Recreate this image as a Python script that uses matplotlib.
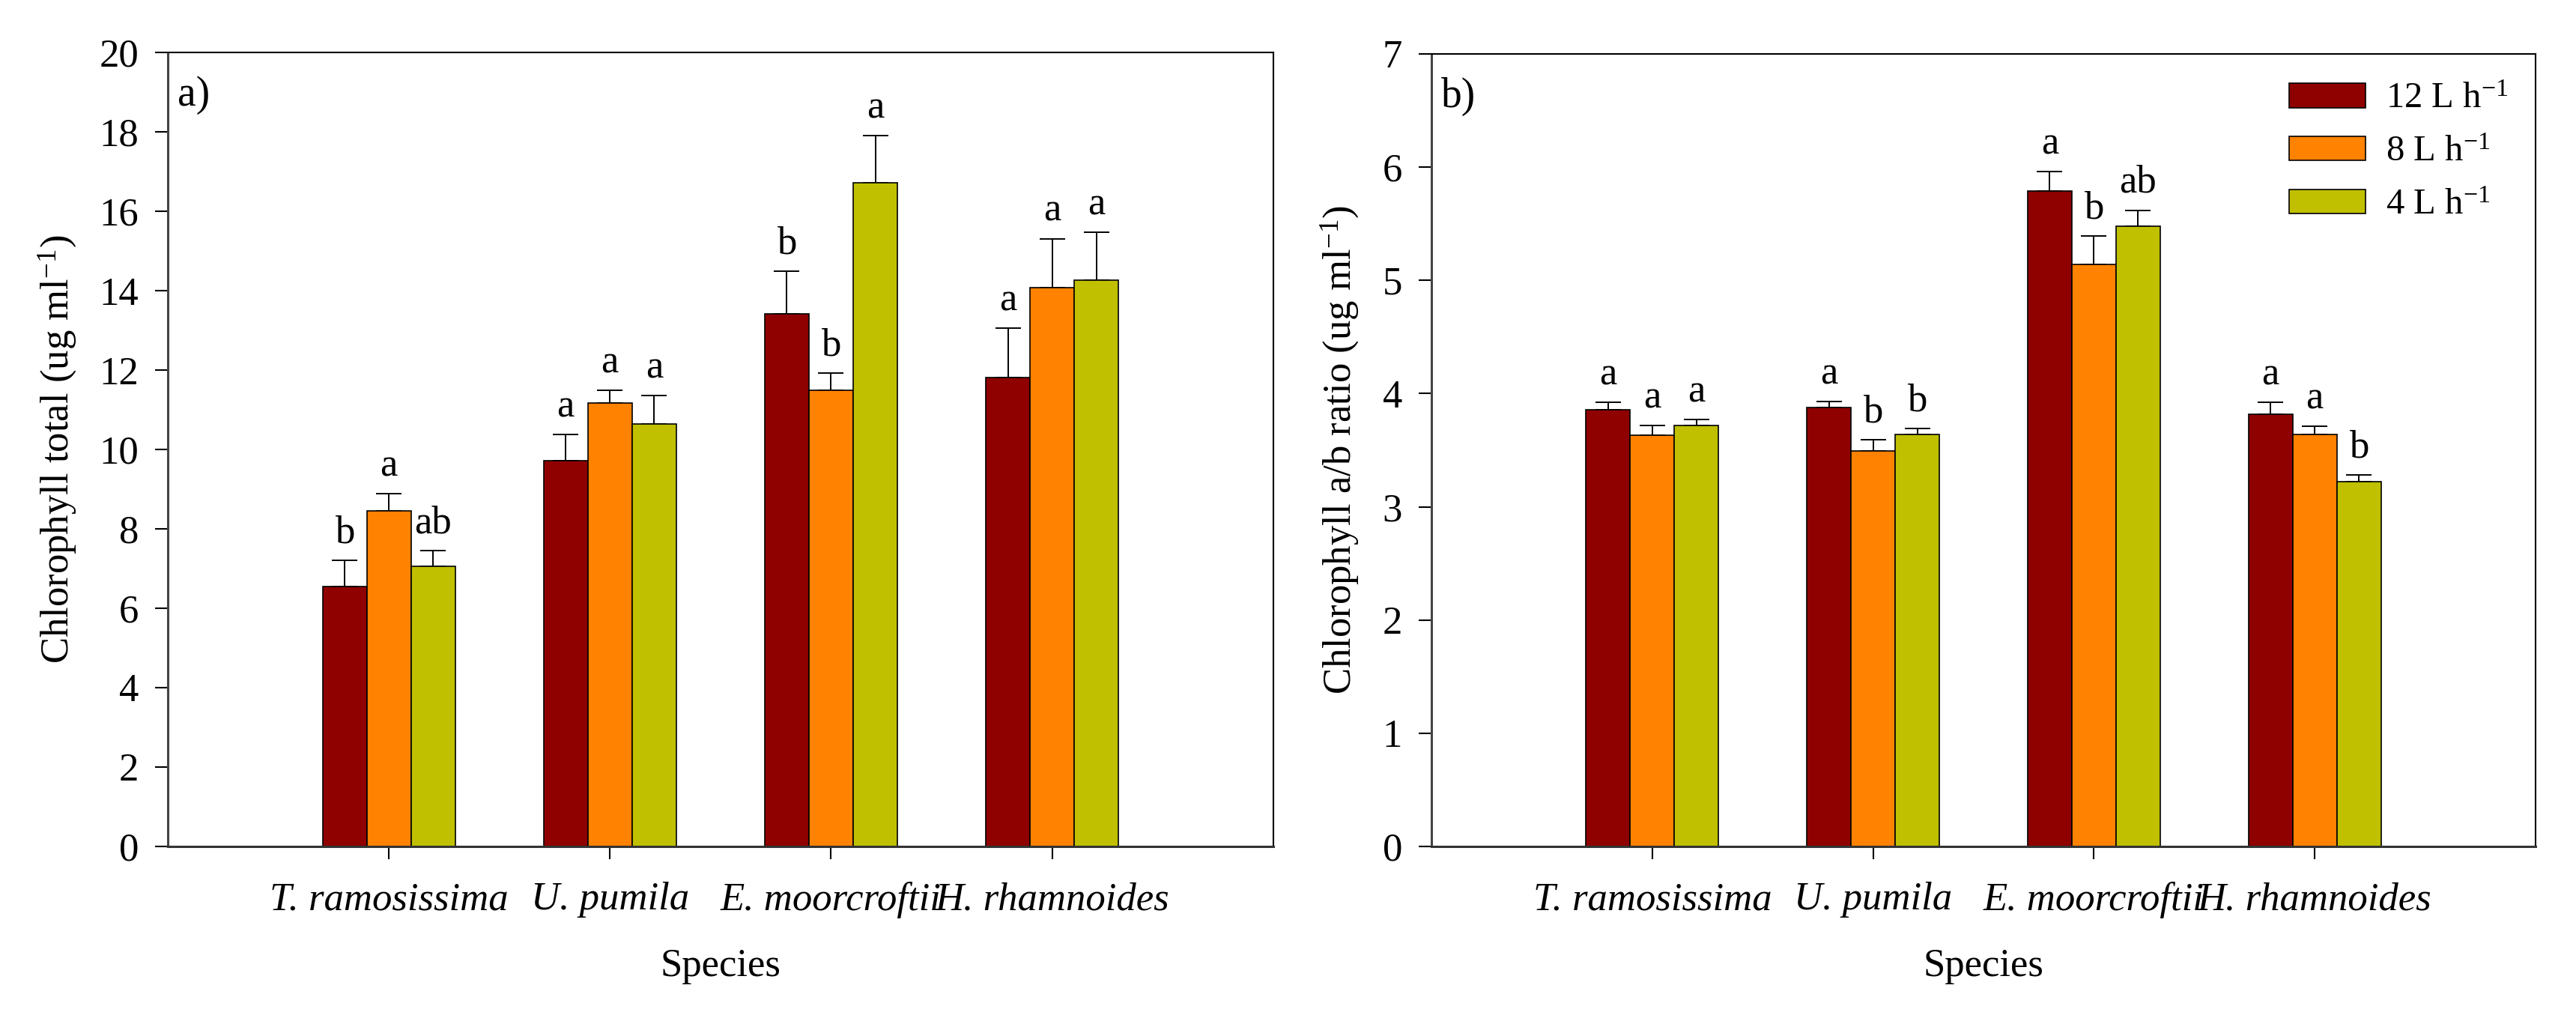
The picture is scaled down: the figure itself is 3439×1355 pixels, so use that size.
import matplotlib
matplotlib.use('Agg')
import matplotlib.pyplot as plt
import numpy as np

plt.rcParams['font.family'] = ['Liberation Serif', 'DejaVu Serif']
plt.rcParams['mathtext.fontset'] = 'custom'
plt.rcParams['mathtext.rm'] = 'Liberation Serif'
plt.rcParams['mathtext.it'] = 'Liberation Serif:italic'

species = ['T. ramosissima', 'U. pumila', 'E. moorcroftii', 'H. rhamnoides']
rates = ['12 L h$^{-1}$', '8 L h$^{-1}$', '4 L h$^{-1}$']
colors = ['#8f0000', '#ff8200', '#c0c000']

# chlorophyll total (ug/ml), one list per flow rate
total_12 = [6.55, 9.71, 13.41, 11.82]
total_8 = [8.46, 11.17, 11.49, 14.08]
total_4 = [7.06, 10.64, 16.71, 14.26]
total_err_12 = [0.65, 0.67, 1.08, 1.24]
total_err_8 = [0.42, 0.32, 0.43, 1.23]
total_err_4 = [0.39, 0.72, 1.20, 1.21]
total_letters_12 = ['b', 'a', 'b', 'a']
total_letters_8 = ['a', 'a', 'b', 'a']
total_letters_4 = ['ab', 'a', 'a', 'a']

# chlorophyll a/b ratio
ratio_12 = [3.86, 3.88, 5.79, 3.82]
ratio_8 = [3.63, 3.49, 5.14, 3.64]
ratio_4 = [3.72, 3.64, 5.48, 3.22]
ratio_err_12 = [0.06, 0.05, 0.17, 0.10]
ratio_err_8 = [0.09, 0.10, 0.25, 0.07]
ratio_err_4 = [0.05, 0.05, 0.14, 0.06]
ratio_letters_12 = ['a', 'a', 'a', 'a']
ratio_letters_8 = ['a', 'b', 'b', 'a']
ratio_letters_4 = ['a', 'b', 'ab', 'b']

fig = plt.figure(figsize=(34.39, 13.55), dpi=100)
ax1 = fig.add_axes([0.0651, 0.1661, 0.4292, 0.7822])
ax2 = fig.add_axes([0.5557, 0.1661, 0.4286, 0.7808])

x = np.arange(1, len(species) + 1)
w = 0.2
fs = 38


def draw(ax, vals, errs, letters, ymax, ylabel, tag):
    for i in range(3):
        pos = x + (i - 1) * w
        ax.bar(pos, vals[i], w, color=colors[i], edgecolor='black',
               linewidth=1.2, label=rates[i], zorder=2)
        ax.errorbar(pos, vals[i], yerr=[np.zeros(len(vals[i])), errs[i]],
                    fmt='none', ecolor='black', elinewidth=1.4,
                    capsize=12, capthick=1.4, zorder=1)
        for p, v, e, t in zip(pos, vals[i], errs[i], letters[i]):
            ax.annotate(t, (p, v + e), xytext=(0, 17), textcoords='offset points',
                        ha='center', va='baseline', fontsize=fs)
    ax.set_xlim(0, 5)
    ax.set_ylim(0, ymax)
    ax.set_xticks(x)
    ax.set_xticklabels(species, fontstyle='italic', fontsize=fs)
    ax.set_yticks(np.arange(0, ymax + 0.1, 2 if ymax == 20 else 1))
    ax.tick_params(axis='both', direction='out', length=12, width=1.5,
                   labelsize=fs)
    ax.tick_params(axis='x', pad=22)
    ax.tick_params(axis='y', pad=16)
    ax.set_xlabel('Species', fontsize=fs, va='center')
    ax.set_ylabel(ylabel, fontsize=fs, va='center')
    for s in ax.spines.values():
        s.set_linewidth(1.5)
    ax.spines['left'].set_linewidth(2.2)
    ax.spines['left'].set_color('#444444')
    ax.spines['bottom'].set_linewidth(2.2)
    ax.spines['bottom'].set_color('#333333')
    ax.text(0.009, 0.946, tag, transform=ax.transAxes, fontsize=40,
            ha='left', va='center')


draw(ax1, [total_12, total_8, total_4], [total_err_12, total_err_8, total_err_4],
     [total_letters_12, total_letters_8, total_letters_4], 20,
     'Chlorophyll total (ug ml$^{-1}$)', 'a)')
draw(ax2, [ratio_12, ratio_8, ratio_4], [ratio_err_12, ratio_err_8, ratio_err_4],
     [ratio_letters_12, ratio_letters_8, ratio_letters_4], 7,
     'Chlorophyll a/b ratio (ug ml$^{-1}$)', 'b)')

ax1.xaxis.set_label_coords(0.5, -0.151)
ax2.xaxis.set_label_coords(0.5, -0.151)
ax1.yaxis.set_label_coords(-0.100, 0.5)
ax2.yaxis.set_label_coords(-0.083, 0.5)

ax2.legend(loc='upper right', bbox_to_anchor=(1.005, 1.005), frameon=False,
           fontsize=35, handlelength=2.1, handleheight=0.65,
           labelspacing=0.55, handletextpad=0.55)

fig.savefig('out.png', dpi=100)
